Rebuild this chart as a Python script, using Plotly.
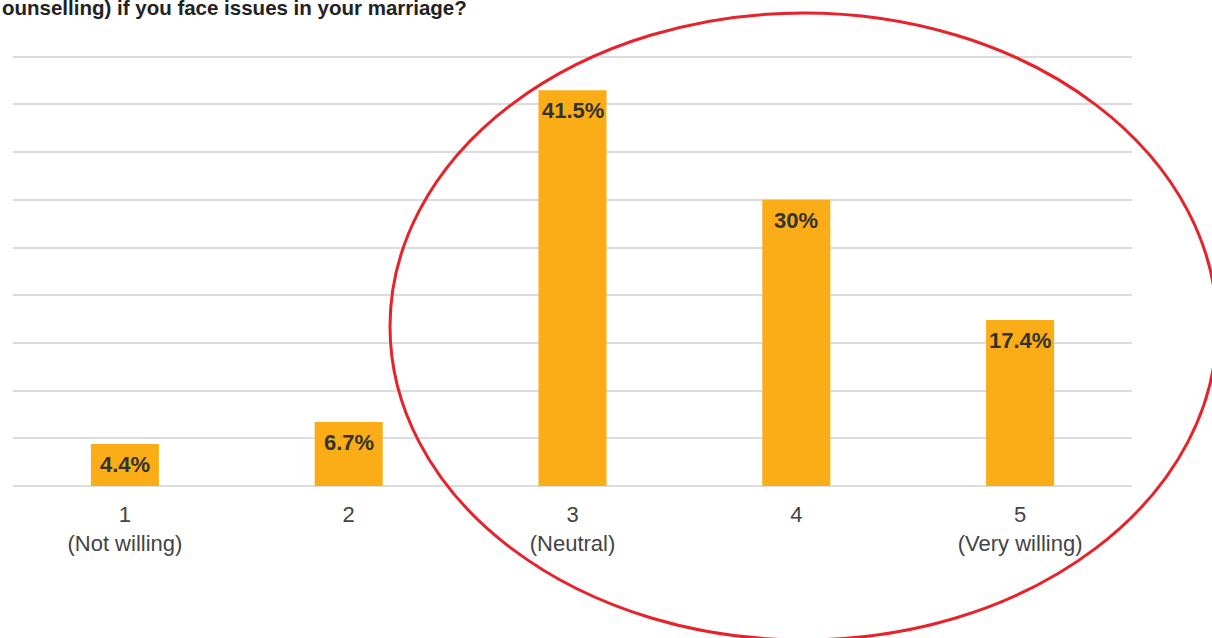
import plotly.graph_objects as go

# ---- data ----
categories = ["1<br>(Not willing)", "2", "3<br>(Neutral)", "4", "5<br>(Very willing)"]
values = [4.4, 6.7, 41.5, 30.0, 17.4]
labels = ["4.4%", "6.7%", "41.5%", "30%", "17.4%"]
gridvals = [0, 5, 10, 15, 20, 25, 30, 35, 40, 45]
title_text = "ounselling) if you face issues in your marriage?"

W, H = 1212, 638
YMAX = 45.5
L, R, B = 13, 1132, 486
T = round(B - (B - 57) * YMAX / 45)  # plot top in pixels


def px_x(x):
    return (x - L) / (R - L)


def px_y(y):
    return (B - y) / (B - T)


fig = go.Figure()
fig.add_trace(go.Bar(
    x=list(range(len(categories))),
    y=values,
    marker=dict(color="#FBAD17", line=dict(width=0)),
    hoverinfo="skip",
))

annotations = []
for i, (v, t) in enumerate(zip(values, labels)):
    annotations.append(dict(
        x=i, y=v, xref="x", yref="y", text=f"<b>{t}</b>", showarrow=False,
        yanchor="top", xanchor="center", yshift=-6,
        font=dict(family="Arial, Liberation Sans, sans-serif", size=22, color="#333333"),
    ))

annotations.append(dict(
    x=px_x(0), y=px_y(7), xref="paper", yref="paper", xanchor="left", yanchor="middle",
    text=f"<b>{title_text}</b>", showarrow=False,
    font=dict(family="Arial, Liberation Sans, sans-serif", size=20.5, color="#222222"),
))

fig.update_layout(
    width=W, height=H,
    margin=dict(l=L, r=W - R, t=T, b=H - B, pad=0),
    paper_bgcolor="white", plot_bgcolor="white",
    bargap=0.696,
    showlegend=False,
    annotations=annotations,
    shapes=[dict(
        type="circle", xref="paper", yref="paper",
        x0=px_x(390), x1=px_x(1217), y0=px_y(13), y1=px_y(640),
        line=dict(color="#E8222B", width=3), fillcolor="rgba(0,0,0,0)",
    )],
    xaxis=dict(
        type="linear", range=[-0.5, len(categories) - 0.5],
        tickmode="array", tickvals=list(range(len(categories))), ticktext=categories,
        showgrid=False, showline=False, zeroline=False,
        ticks="outside", ticklen=9, tickcolor="rgba(0,0,0,0)",
        tickfont=dict(family="Arial, Liberation Sans, sans-serif", size=22, color="#444444"),
    ),
    yaxis=dict(
        range=[0, YMAX], tickmode="array", tickvals=gridvals,
        showticklabels=False, showgrid=True,
        gridcolor="#DCDCDC", gridwidth=1.5, zeroline=True, zerolinecolor="#DCDCDC",
        zerolinewidth=1.5, showline=False,
    ),
)

fig.write_html("out.html")
